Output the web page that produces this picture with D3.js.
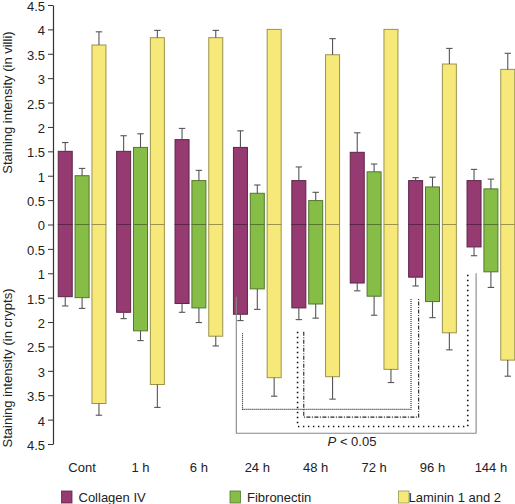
<!DOCTYPE html>
<html>
<head>
<meta charset="utf-8">
<script src="https://cdn.jsdelivr.net/npm/d3@7"></script>
<style>
  body { margin: 0; background: #fff; }
  svg { display: block; font-family: "Liberation Sans", Arial, sans-serif; }
</style>
</head>
<body>
<svg id="chart" width="515" height="504"></svg>
<script>
// ---------------- data ----------------
const categories = ["Cont", "1 h", "6 h", "24 h", "48 h", "72 h", "96 h", "144 h"];
const seriesNames = ["Collagen IV", "Fibronectin", "Laminin 1 and 2"];
const seriesColors = ["#963a72", "#85bd47", "#f6e97a"];

// villi (upper half)
const villiCollagen    = [1.50, 1.50, 1.74, 1.58, 0.90, 1.48, 0.90, 0.90];
const villiCollagenErr = [0.18, 0.32, 0.23, 0.34, 0.28, 0.40, 0.06, 0.23];
const villiFibronectin    = [1.00, 1.58, 0.90, 0.64, 0.49, 1.08, 0.77, 0.73];
const villiFibronectinErr = [0.15, 0.28, 0.21, 0.17, 0.17, 0.16, 0.20, 0.20];
const villiLaminin    = [3.68, 3.83, 3.83, 4.00, 3.48, 4.00, 3.29, 3.18];
const villiLamininErr = [0.27, 0.15, 0.15, 0.00, 0.33, 0.00, 0.32, 0.33];

// crypts (lower half)
const cryptCollagen    = [1.48, 1.80, 1.62, 1.84, 1.71, 1.20, 1.08, 0.46];
const cryptCollagenErr = [0.19, 0.13, 0.18, 0.13, 0.24, 0.16, 0.18, 0.18];
const cryptFibronectin    = [1.50, 2.18, 1.71, 1.32, 1.63, 1.47, 1.58, 0.97];
const cryptFibronectinErr = [0.22, 0.20, 0.30, 0.42, 0.29, 0.39, 0.33, 0.32];
const cryptLaminin    = [3.67, 3.28, 2.29, 3.14, 3.12, 2.97, 2.22, 2.78];
const cryptLamininErr = [0.24, 0.47, 0.20, 0.38, 0.46, 0.27, 0.35, 0.33];

const yTicks = [-4.5,-4,-3.5,-3,-2.5,-2,-1.5,-1,-0.5,0,0.5,1,1.5,2,2.5,3,3.5,4,4.5];

// significance brackets (crypt values, in data units)
const brackets = [
  { from: "24 h", to: "144 h", fromY: 1.48, toY: 1.00, baseY: 4.28, style: "solid" },
  { from: "24 h", to: "96 h",  fromY: 2.23, toY: 1.52, baseY: 3.79, style: "fine" },
  { from: "48 h", to: "96 h",  fromY: 2.20, toY: 1.52, baseY: 3.95, style: "dashdot" },
  { from: "48 h", to: "144 h", fromY: 2.20, toY: 1.00, baseY: 4.14, style: "dots" }
];

// ---------------- build ----------------
const villi = [villiCollagen, villiFibronectin, villiLaminin];
const villiErr = [villiCollagenErr, villiFibronectinErr, villiLamininErr];
const crypt = [cryptCollagen, cryptFibronectin, cryptLaminin];
const cryptErr = [cryptCollagenErr, cryptFibronectinErr, cryptLamininErr];

const rows = [];
categories.forEach((c, i) => {
  seriesNames.forEach((s, j) => {
    rows.push({ cat: c, series: s, color: seriesColors[j],
      villi: villi[j][i], villiErr: villiErr[j][i],
      crypt: crypt[j][i], cryptErr: cryptErr[j][i] });
  });
});

const svg = d3.select("#chart");

const x0 = d3.scaleBand().domain(categories).range([52.9, 520.1]).paddingInner(0.183).paddingOuter(0.0915);
const x1 = d3.scaleBand().domain(seriesNames).range([0, x0.bandwidth()]).paddingInner(0.17);
// signed scale: positive = villi (up), negative = crypts (down)
const y = d3.scaleLinear().domain([-4.5, 4.5]).range([444, 5]);

// axis
const axis = d3.axisLeft(y).tickValues(yTicks).tickSize(5).tickSizeOuter(0).tickPadding(3)
  .tickFormat(d => String(Math.abs(+d.toFixed(1))));
const gAxis = svg.append("g").attr("transform", "translate(53,0)").call(axis);
gAxis.select(".domain").attr("stroke", "#333").attr("stroke-width", 1.2);
gAxis.selectAll(".tick line").attr("stroke", "#333");
gAxis.selectAll(".tick text").attr("fill", "#222").attr("dy", "0.42em").style("font-size", "13px")
  .style("font-family", "'Liberation Sans', Arial, sans-serif");

// axis titles
svg.append("text").attr("transform", `translate(11.5,${(y(0.9) + y(4.1)) / 2}) rotate(-90)`)
  .attr("text-anchor", "middle").attr("font-size", 13).attr("fill", "#222")
  .text("Staining intensity (in villi)");
svg.append("text").attr("transform", `translate(11.5,${(y(-1.3) + y(-4.5)) / 2 + 2}) rotate(-90)`)
  .attr("text-anchor", "middle").attr("font-size", 13).attr("fill", "#222")
  .text("Staining intensity (in crypts)");

// bars
const gBars = svg.append("g");
const bx = d => x0(d.cat) + x1(d.series);
const bw = x1.bandwidth();
const strokeOf = c => d3.color(c).darker(1.3).formatHex();

gBars.selectAll("rect.v").data(rows).join("rect").attr("class", "v")
  .attr("x", bx).attr("width", bw)
  .attr("y", d => y(d.villi)).attr("height", d => y(0) - y(d.villi))
  .attr("fill", d => d.color).attr("stroke", d => strokeOf(d.color)).attr("stroke-width", 1);
gBars.selectAll("rect.c").data(rows).join("rect").attr("class", "c")
  .attr("x", bx).attr("width", bw)
  .attr("y", y(0)).attr("height", d => y(-d.crypt) - y(0))
  .attr("fill", d => d.color).attr("stroke", d => strokeOf(d.color)).attr("stroke-width", 1);

// error bars
const gErr = svg.append("g").attr("stroke", "#555").attr("stroke-width", 1.1);
const capHalf = 3.2;
rows.forEach(d => {
  const cx = bx(d) + bw / 2;
  if (d.villiErr > 0) {
    gErr.append("line").attr("x1", cx).attr("x2", cx).attr("y1", y(d.villi)).attr("y2", y(d.villi + d.villiErr));
    gErr.append("line").attr("x1", cx - capHalf).attr("x2", cx + capHalf).attr("y1", y(d.villi + d.villiErr)).attr("y2", y(d.villi + d.villiErr));
  }
  if (d.cryptErr > 0) {
    gErr.append("line").attr("x1", cx).attr("x2", cx).attr("y1", y(-d.crypt)).attr("y2", y(-d.crypt - d.cryptErr));
    gErr.append("line").attr("x1", cx - capHalf).attr("x2", cx + capHalf).attr("y1", y(-d.crypt - d.cryptErr)).attr("y2", y(-d.crypt - d.cryptErr));
  }
});

// significance brackets
const styleMap = {
  solid:   { stroke: "#888", width: 1.1, dash: null, fx: 0.06, tx: 0.19 },
  fine:    { stroke: "#222", width: 1.1, dash: "1,1", fx: 0.19, tx: 0.05 },
  dashdot: { stroke: "#222", width: 1.1, dash: "4,1.5,1,1.5", fx: 0.25, tx: 0.21 },
  dots:    { stroke: "#111", width: 1.6, dash: "1.4,3.6", fx: 0.12, tx: 0.015 }
};
const gBr = svg.append("g").attr("fill", "none");
brackets.forEach(b => {
  const st = styleMap[b.style];
  const xa = x0(b.from) + st.fx * x0.bandwidth();
  const xb = x0(b.to) + st.tx * x0.bandwidth();
  const p = d3.path();
  p.moveTo(xa, y(-b.fromY));
  p.lineTo(xa, y(-b.baseY));
  p.lineTo(xb, y(-b.baseY));
  p.lineTo(xb, y(-b.toY));
  gBr.append("path").attr("d", p.toString()).attr("stroke", st.stroke)
    .attr("stroke-width", st.width).attr("stroke-dasharray", st.dash);
});
const pText = svg.append("text").attr("x", 352).attr("y", 446).attr("text-anchor", "middle")
  .attr("font-size", 13).attr("fill", "#222");
pText.append("tspan").attr("font-style", "italic").text("P");
pText.append("tspan").text(" < 0.05");

// category labels
svg.append("g").selectAll("text").data(categories).join("text")
  .attr("x", d => x0(d) + x0.bandwidth() / 2).attr("y", 471.5)
  .attr("text-anchor", "middle").attr("font-size", 13).attr("fill", "#222")
  .text(d => d);

// legend
const legendX = [61.5, 230, 398.5];
const gLeg = svg.append("g");
seriesNames.forEach((s, j) => {
  gLeg.append("rect").attr("x", legendX[j]).attr("y", 491).attr("width", 10.5).attr("height", 12)
    .attr("fill", seriesColors[j]).attr("stroke", strokeOf(seriesColors[j])).attr("stroke-width", 0.8);
  gLeg.append("text").attr("x", legendX[j] + (j === 2 ? 10 : 17)).attr("y", 501.5)
    .attr("font-size", 13).attr("fill", "#222").text(s);
});
</script>
</body>
</html>
